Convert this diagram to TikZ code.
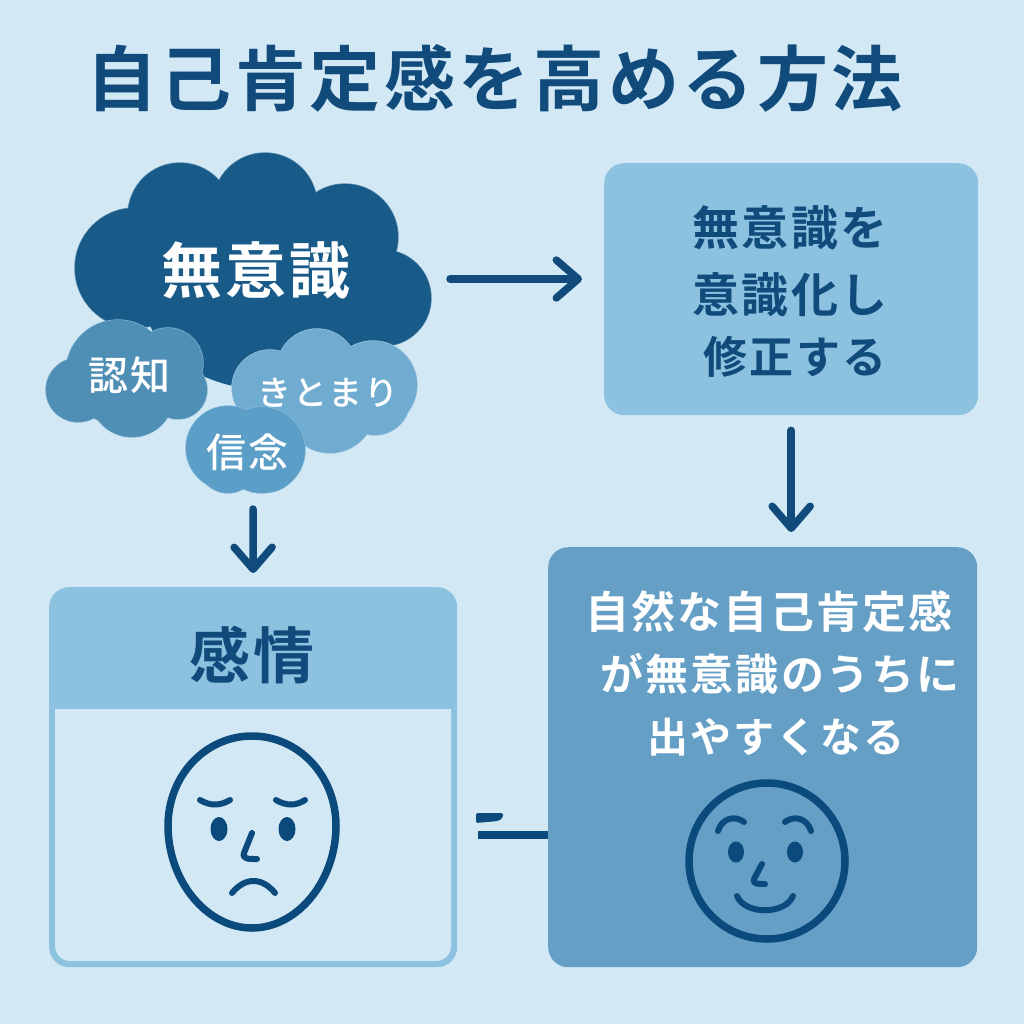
\documentclass[tikz,border=0pt]{standalone}
\usepackage{fontspec}
\usetikzlibrary{arrows.meta}
\newfontfamily\jpbold[LetterSpace=5]{Noto Sans CJK JP Bold}
\newfontfamily\jpmed[LetterSpace=5]{Noto Sans CJK JP Medium}
\definecolor{bgc}{HTML}{D2E9F5}
\definecolor{navy}{HTML}{104B7C}
\definecolor{inkc}{HTML}{0A4A7C}
\definecolor{cloudmain}{HTML}{185A88}
\definecolor{cloudA}{HTML}{4F8FB6}
\definecolor{cloudB}{HTML}{70ACCF}
\definecolor{cloudC}{HTML}{5B9EC8}
\definecolor{boxlight}{HTML}{8CC2E0}
\definecolor{boxdark}{HTML}{659FC6}
\newcommand{\fs}[1]{\fontsize{#1}{#1}\selectfont}
\newcommand{\puffs}[2]{%
  \foreach \px/\py/\pr in {#2} {\fill[white!30!#1] (\px,\py) circle[radius=\pr+0.7];}
  \foreach \px/\py/\pr in {#2} {\fill[#1] (\px,\py) circle[radius=\pr];}}
\tikzset{
  arr/.style={draw=navy,line width=7.5pt,line cap=round,-{Straight Barb[length=22pt,width=38pt,round]}},
  panel/.style={rounded corners=20pt,inner sep=0pt,anchor=north west},
  face/.style={draw=inkc,line width=7.5pt},
  feat/.style={draw=inkc,line width=6pt,line cap=round,line join=round},
  lab/.style={inner sep=0pt,align=center},
}
\begin{document}
\begin{tikzpicture}[x=1pt,y=-1pt]
\useasboundingbox (0,0) rectangle (1024,1024);
\fill[bgc] (0,0) rectangle (1024,1024);
\node[lab,text=navy,font=\jpbold\fs{71}] (title) at (494.5,78) {自己肯定感を高める方法};
% main cloud
\puffs{cloudmain}{135/268/60,180/215/52,265/205/52,345/237/53,383/298/48}
\fill[cloudmain] (270,300) ellipse[x radius=125,y radius=90];
\node[lab,text=white,font=\jpbold\fs{61}] (mu) at (256,270) {無意識};
% small clouds
\puffs{cloudA}{78/390/32,118/372/52,168/363/35,178/390/29,132/395/42}
\node[lab,text=white,font=\jpmed\fs{40}] (nin) at (129,375) {認知};
\puffs{cloudB}{270/388/38,317/369/40,373/385/44,330/408/45,375/400/35}
\node[lab,text=white,font=\jpmed\fs{34}] (kit) at (328,393) {きとまり};
\puffs{cloudC}{228/448/42,262/450/43,228/463/30,268/463/29}
\node[lab,text=white,font=\jpmed\fs{40}] (shi) at (247,452) {信念};
% panels
\node[panel,fill=boxlight,minimum width=374pt,minimum height=252pt] (fix) at (604,163) {};
\node[lab,text=navy,font=\jpbold\fs{47}] (fixA) at (790,228) {無意識を};
\node[lab,text=navy,font=\jpbold\fs{47}] (fixB) at (790,295) {意識化し};
\node[lab,text=navy,font=\jpbold\fs{44}] (fixC) at (795,357) {修正する};
\node[panel,fill=boxdark,minimum width=429pt,minimum height=420pt] (res) at (548,547) {};
\node[lab,text=white,font=\jpbold\fs{44}] (resA) at (769,612) {自然な自己肯定感};
\node[lab,text=white,font=\jpbold\fs{43}] (resB) at (780,674) {が無意識のうちに};
\node[lab,text=white,font=\jpbold\fs{41}] (resC) at (776,737) {出やすくなる};
\node[panel,fill=boxlight,minimum width=408pt,minimum height=380pt] (feel) at (49,587) {};
\fill[bgc] (55,709) -- (451,709) -- (451,946) arc[start angle=0,end angle=90,radius=15] -- (70,961) arc[start angle=90,end angle=180,radius=15] -- cycle;
\node[lab,text=navy,font=\jpbold\fs{61}] (feelT) at (252,655) {感情};
% connectors
\coordinate (a1s) at (450,279);
\coordinate (a3s) at (253,509);
\coordinate (eqs) at (478,835);
\draw[arr,shorten >=22pt] (a1s) -- (a1s -| fix.west);
\draw[arr,shorten <=15pt,shorten >=15pt] (fix.south) -- (fix.south |- res.north);
\draw[arr,shorten >=14pt] (a3s) -- (feel.north);
\draw[draw=inkc,line width=8pt] (res.west |- eqs) -- (eqs);
\fill[inkc,rounded corners=2pt] (476,813) -- (503,813) -- (503,818) -- (498,821) -- (476,823) -- cycle;
% sad face
\draw[face] (252,736) .. controls (298,736) and (336,775) .. (336,826) .. controls (336,880) and (298,928) .. (252,928) .. controls (206,928) and (168,880) .. (168,826) .. controls (168,775) and (206,736) .. (252,736) -- cycle;
\draw[feat] (200,800) .. controls (210,806) and (220,806) .. (230,800);
\draw[feat] (276,800) .. controls (286,806) and (296,806) .. (305,800);
\fill[inkc] (219,829) ellipse[x radius=8.5,y radius=12];
\fill[inkc] (287,829) ellipse[x radius=8.5,y radius=12];
\draw[feat] (252,833) -- (244,853) .. controls (242,859) and (248,859) .. (257,859);
\draw[feat] (232,893) .. controls (245,877) and (262,877) .. (275,893);
% happy face
\draw[face] (767,861) circle[radius=78];
\draw[feat] (718,831) .. controls (722,818) and (735,815) .. (744,822);
\draw[feat] (785,822) .. controls (794,815) and (807,818) .. (811,831);
\fill[inkc] (736,852) ellipse[x radius=8,y radius=10.5];
\fill[inkc] (795,852) ellipse[x radius=8,y radius=10.5];
\draw[feat] (762,864) -- (754,879) .. controls (752,884) and (758,884) .. (765,884);
\draw[feat] (737,896) .. controls (745,915) and (785,915) .. (793,896);
\end{tikzpicture}
\end{document}
